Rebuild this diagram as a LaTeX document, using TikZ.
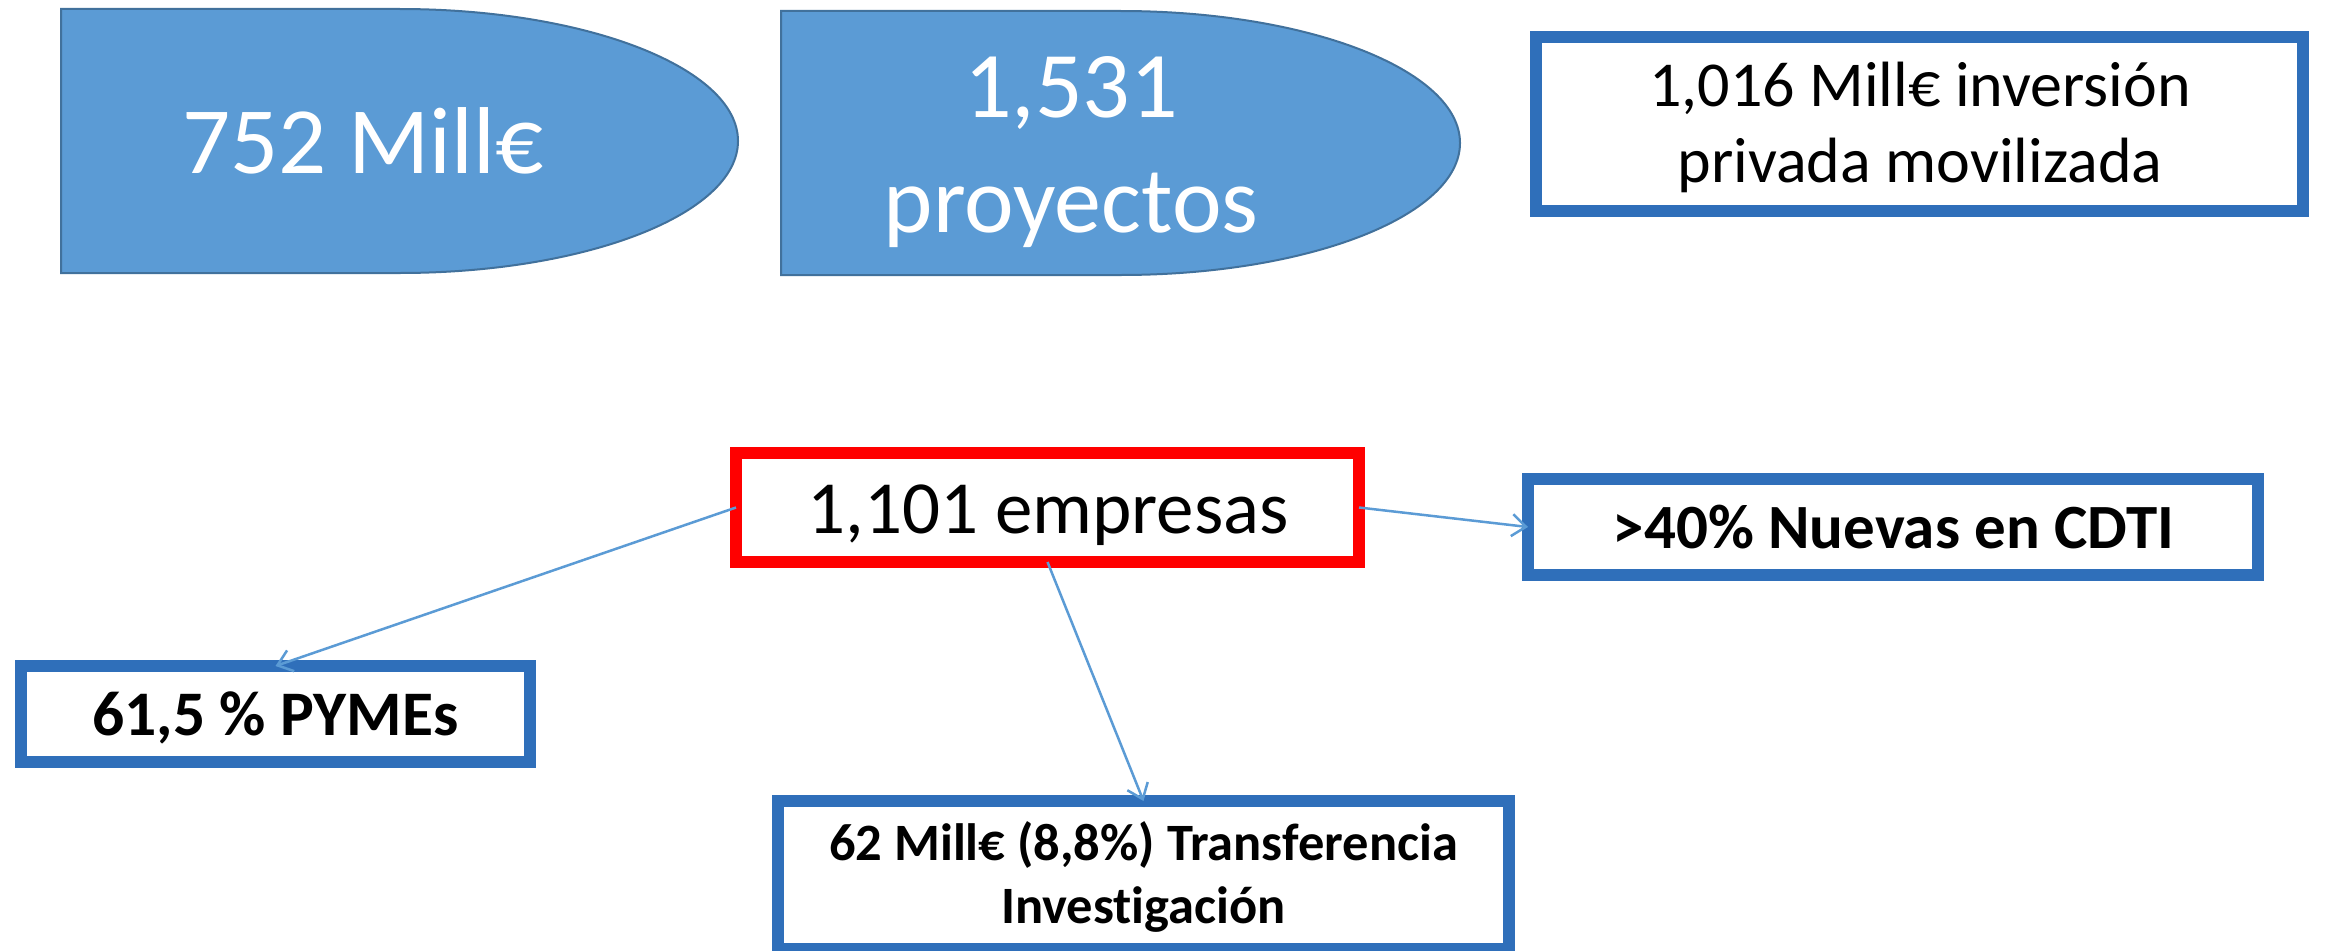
\documentclass[tikz,border=0pt]{standalone}
\usepackage{fontspec}
\setmainfont{Carlito}[Ligatures=NoCommon]
\usetikzlibrary{arrows.meta}
\definecolor{boxblue}{RGB}{47,111,186}
\definecolor{shapefill}{RGB}{91,155,213}
\definecolor{shapeline}{RGB}{65,113,156}
\definecolor{arrowblue}{RGB}{91,155,213}
\definecolor{boxred}{RGB}{255,0,0}
\begin{document}
\begin{tikzpicture}[x=1pt,y=-1pt,
  delayshape/.style={fill=shapefill,draw=shapeline,line width=2pt},
  bluebox/.style={draw=boxblue,line width=12pt,fill=white,inner sep=0pt,outer sep=0pt},
  redbox/.style={draw=boxred,line width=12pt,fill=white,inner sep=0pt,outer sep=0pt},
  txt/.style={inner sep=0pt,outer sep=0pt,anchor=base},
  conn/.style={draw=arrowblue,line width=2.5pt,-{Straight Barb[length=14pt,width=22pt,line width=2.5pt]}}
]
\useasboundingbox (0,0) rectangle (2333,950);
\fill[white] (0,0) rectangle (2333,950);

% top blue delay shapes
\path[delayshape] (61,9) -- (399.5,9) arc[start angle=90,end angle=-90,x radius=338.5pt,y radius=132pt] -- (61,273) -- cycle;
\path[delayshape] (781,11) -- (1120.5,11) arc[start angle=90,end angle=-90,x radius=339.5pt,y radius=132pt] -- (781,275) -- cycle;
\node[txt,text=white,font=\fontsize{95}{115}\selectfont] (money) at (363,173) {752 Mill€};
\node[txt,text=white,font=\fontsize{94}{115}\selectfont] (projA) at (1071,117) {1,531};
\node[txt,text=white,font=\fontsize{94}{115}\selectfont] (projB) at (1071,232) {proyectos};

% top right box
\node[bluebox,minimum width=767pt,minimum height=174pt] (invest) at (1919.5,124) {};
\node[txt,font=\fontsize{64}{78}\selectfont] (investA) at (1920,106) {1,016 Mill€ inversión};
\node[txt,font=\fontsize{64}{78}\selectfont] (investB) at (1920,182) {privada movilizada};

% central red box
\node[redbox,minimum width=623pt,minimum height=109pt] (firms) at (1047.5,507.5) {};
\node[txt,font=\fontsize{75}{92}\selectfont] (firmsT) at (1048,533) {1,101 empresas};

% right box
\node[bluebox,minimum width=730pt,minimum height=96pt] (nuevas) at (1893,527) {};
\node[txt,font=\bfseries\fontsize{63}{76}\selectfont] (nuevasT) at (1893.5,548) {>40\% Nuevas en CDTI};

% left box
\node[bluebox,minimum width=509pt,minimum height=96pt] (pymes) at (275.5,714) {};
\node[txt,font=\bfseries\fontsize{63.5}{76}\selectfont] (pymesT) at (275.5,735) {61,5 \% PYMEs};

% bottom box
\node[bluebox,minimum width=731pt,minimum height=148pt] (transfer) at (1143.5,875) {};
\node[txt,font=\bfseries\fontsize{52.5}{64}\selectfont] (transferA) at (1143.5,860) {62 Mill€ (8,8\%) Transferencia};
\node[txt,font=\bfseries\fontsize{52.5}{64}\selectfont] (transferB) at (1143.5,923) {Investigación};

% connectors
\draw[conn] (firms.west) -- (pymes.north);
\draw[conn] (firms.east) -- (nuevas.west);
\draw[conn] (firms.south) -- (transfer.north);
\end{tikzpicture}
\end{document}
